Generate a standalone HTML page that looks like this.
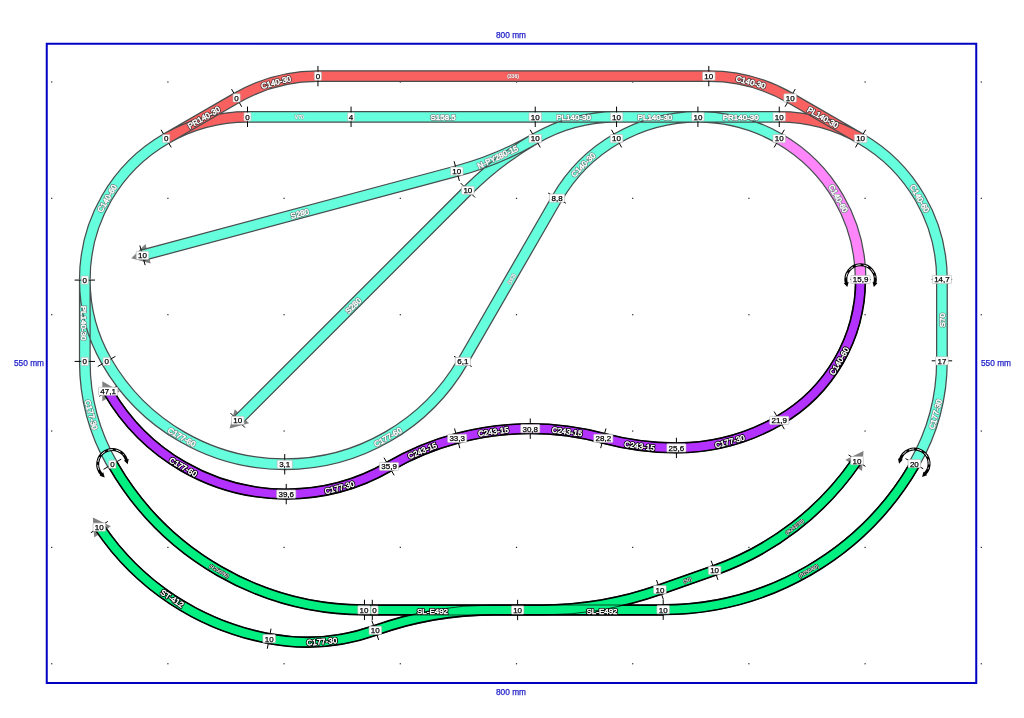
<!DOCTYPE html><html><head><meta charset="utf-8"><title>Track plan</title><style>html,body{margin:0;padding:0;background:#fff}svg{display:block;will-change:transform;opacity:0.999}text{font-family:"Liberation Sans",sans-serif}</style></head><body>
<svg width="1024" height="718" viewBox="0 0 1024 718">
<rect width="1024" height="718" fill="#fff"/>
<g fill="#222"><rect x="51.1" y="81.4" width="1.2" height="1.2"/><rect x="51.1" y="197.75" width="1.2" height="1.2"/><rect x="51.1" y="314.1" width="1.2" height="1.2"/><rect x="51.1" y="430.45" width="1.2" height="1.2"/><rect x="51.1" y="546.8" width="1.2" height="1.2"/><rect x="51.1" y="663.15" width="1.2" height="1.2"/><rect x="167.3" y="81.4" width="1.2" height="1.2"/><rect x="167.3" y="197.75" width="1.2" height="1.2"/><rect x="167.3" y="314.1" width="1.2" height="1.2"/><rect x="167.3" y="430.45" width="1.2" height="1.2"/><rect x="167.3" y="546.8" width="1.2" height="1.2"/><rect x="167.3" y="663.15" width="1.2" height="1.2"/><rect x="283.5" y="81.4" width="1.2" height="1.2"/><rect x="283.5" y="197.75" width="1.2" height="1.2"/><rect x="283.5" y="314.1" width="1.2" height="1.2"/><rect x="283.5" y="430.45" width="1.2" height="1.2"/><rect x="283.5" y="546.8" width="1.2" height="1.2"/><rect x="283.5" y="663.15" width="1.2" height="1.2"/><rect x="399.7" y="81.4" width="1.2" height="1.2"/><rect x="399.7" y="197.75" width="1.2" height="1.2"/><rect x="399.7" y="314.1" width="1.2" height="1.2"/><rect x="399.7" y="430.45" width="1.2" height="1.2"/><rect x="399.7" y="546.8" width="1.2" height="1.2"/><rect x="399.7" y="663.15" width="1.2" height="1.2"/><rect x="515.9" y="81.4" width="1.2" height="1.2"/><rect x="515.9" y="197.75" width="1.2" height="1.2"/><rect x="515.9" y="314.1" width="1.2" height="1.2"/><rect x="515.9" y="430.45" width="1.2" height="1.2"/><rect x="515.9" y="546.8" width="1.2" height="1.2"/><rect x="515.9" y="663.15" width="1.2" height="1.2"/><rect x="632.1" y="81.4" width="1.2" height="1.2"/><rect x="632.1" y="197.75" width="1.2" height="1.2"/><rect x="632.1" y="314.1" width="1.2" height="1.2"/><rect x="632.1" y="430.45" width="1.2" height="1.2"/><rect x="632.1" y="546.8" width="1.2" height="1.2"/><rect x="632.1" y="663.15" width="1.2" height="1.2"/><rect x="748.3" y="81.4" width="1.2" height="1.2"/><rect x="748.3" y="197.75" width="1.2" height="1.2"/><rect x="748.3" y="314.1" width="1.2" height="1.2"/><rect x="748.3" y="430.45" width="1.2" height="1.2"/><rect x="748.3" y="546.8" width="1.2" height="1.2"/><rect x="748.3" y="663.15" width="1.2" height="1.2"/><rect x="864.5" y="81.4" width="1.2" height="1.2"/><rect x="864.5" y="197.75" width="1.2" height="1.2"/><rect x="864.5" y="314.1" width="1.2" height="1.2"/><rect x="864.5" y="430.45" width="1.2" height="1.2"/><rect x="864.5" y="546.8" width="1.2" height="1.2"/><rect x="864.5" y="663.15" width="1.2" height="1.2"/><rect x="980.7" y="81.4" width="1.2" height="1.2"/><rect x="980.7" y="197.75" width="1.2" height="1.2"/><rect x="980.7" y="314.1" width="1.2" height="1.2"/><rect x="980.7" y="430.45" width="1.2" height="1.2"/><rect x="980.7" y="546.8" width="1.2" height="1.2"/><rect x="980.7" y="663.15" width="1.2" height="1.2"/></g>
<rect x="46.75" y="43.75" width="929.5" height="639.25" fill="none" stroke="#0000c4" stroke-width="2"/>
<g font-size="8.3" fill="#1c1cc8" text-anchor="middle" stroke="#1c1cc8" stroke-width="0.25">
<text x="511" y="38">800 mm</text><text x="511" y="694.6">800 mm</text><text x="29" y="366">550 mm</text><text x="996" y="366">550 mm</text></g>
<g fill="#808080"><polygon points="131.28,258.31 145.49,244.1 150.69,263.51"/><polygon points="229.58,428.57 234.78,409.16 248.99,423.37"/><polygon points="102.31,381.18 119.71,391.23 102.31,401.27"/><polygon points="92.84,517.48 110.89,526.32 94.21,537.53"/><polygon points="863.53,451.05 862.03,471.09 845.43,459.76"/></g>
<g fill="none" stroke-linecap="butt" stroke-linejoin="round">
<path d="M166.16 138.59 L236.6 97.92 M166.16 138.59 A162.68 162.68 0 0 1 247.5 116.8" stroke="#f96060" stroke-width="10.6"/><path d="M168.81 143.18 L239.25 102.51 M163.51 134.01 L233.95 93.34 M168.81 143.18 A157.38 157.38 0 0 1 247.5 122.1 M163.51 134.01 A167.98 167.98 0 0 1 247.5 111.5" stroke="#464e4e" stroke-width="1.25"/>
<path d="M236.6 97.92 A162.68 162.68 0 0 1 317.94 76.13" stroke="#f96060" stroke-width="10.6"/><path d="M239.25 102.51 A157.38 157.38 0 0 1 317.94 81.43 M233.95 93.34 A167.98 167.98 0 0 1 317.94 70.83" stroke="#464e4e" stroke-width="1.25"/>
<path d="M860.59 138.59 L790.15 97.92 M860.59 138.59 A162.68 162.68 0 0 0 779.25 116.8" stroke="#f96060" stroke-width="10.6"/><path d="M863.24 134.01 L792.8 93.34 M857.94 143.18 L787.5 102.51 M863.24 134.01 A167.98 167.98 0 0 0 779.25 111.5 M857.94 143.18 A157.38 157.38 0 0 0 779.25 122.1" stroke="#464e4e" stroke-width="1.25"/>
<path d="M790.15 97.92 A162.68 162.68 0 0 0 708.81 76.13" stroke="#f96060" stroke-width="10.6"/><path d="M792.8 93.34 A167.98 167.98 0 0 0 708.81 70.83 M787.5 102.51 A157.38 157.38 0 0 0 708.81 81.43" stroke="#464e4e" stroke-width="1.25"/>
<path d="M317.94 76.13 L708.81 76.13" stroke="#f96060" stroke-width="10.6"/><path d="M317.94 81.43 L708.81 81.43 M317.94 70.83 L708.81 70.83" stroke="#464e4e" stroke-width="1.25"/>
<path d="M247.5 116.8 L351.05 116.8" stroke="#66ffdd" stroke-width="10.6"/><path d="M247.5 122.1 L351.05 122.1 M247.5 111.5 L351.05 111.5" stroke="#464e4e" stroke-width="1.25"/>
<path d="M351.05 116.8 L535.23 116.8" stroke="#66ffdd" stroke-width="10.6"/><path d="M351.05 122.1 L535.23 122.1 M351.05 111.5 L535.23 111.5" stroke="#464e4e" stroke-width="1.25"/>
<path d="M616.57 116.8 L535.23 116.8 M616.57 116.8 A162.68 162.68 0 0 0 535.23 138.59" stroke="#66ffdd" stroke-width="10.6"/><path d="M616.57 111.5 L535.23 111.5 M616.57 122.1 L535.23 122.1 M616.57 111.5 A167.98 167.98 0 0 0 532.58 134.01 M616.57 122.1 A157.38 157.38 0 0 0 537.88 143.18" stroke="#464e4e" stroke-width="1.25"/>
<path d="M697.91 116.8 L616.57 116.8 M697.91 116.8 A162.68 162.68 0 0 0 616.57 138.59" stroke="#66ffdd" stroke-width="10.6"/><path d="M697.91 111.5 L616.57 111.5 M697.91 122.1 L616.57 122.1 M697.91 111.5 A167.98 167.98 0 0 0 613.92 134.01 M697.91 122.1 A157.38 157.38 0 0 0 619.22 143.18" stroke="#464e4e" stroke-width="1.25"/>
<path d="M697.91 116.8 L779.25 116.8 M697.91 116.8 A162.68 162.68 0 0 1 779.25 138.59" stroke="#66ffdd" stroke-width="10.6"/><path d="M697.91 122.1 L779.25 122.1 M697.91 111.5 L779.25 111.5 M697.91 122.1 A157.38 157.38 0 0 1 776.6 143.18 M697.91 111.5 A167.98 167.98 0 0 1 781.9 134.01" stroke="#464e4e" stroke-width="1.25"/>
<path d="M535.23 138.59 A325.36 325.36 0 0 1 456.76 171.1 M535.23 138.59 A325.36 325.36 0 0 0 467.85 190.3" stroke="#66ffdd" stroke-width="10.6"/><path d="M532.58 134.01 A320.06 320.06 0 0 1 455.39 165.98 M537.88 143.18 A330.66 330.66 0 0 1 458.13 176.22 M532.58 134.01 A330.66 330.66 0 0 0 464.1 186.55 M537.88 143.18 A320.06 320.06 0 0 0 471.59 194.05" stroke="#464e4e" stroke-width="1.25"/>
<path d="M456.76 171.1 L142.49 255.31" stroke="#66ffdd" stroke-width="10.6"/><path d="M455.39 165.98 L141.11 250.19 M458.13 176.22 L143.86 260.43" stroke="#464e4e" stroke-width="1.25"/>
<path d="M467.85 190.3 L237.78 420.37" stroke="#66ffdd" stroke-width="10.6"/><path d="M464.1 186.55 L234.03 416.62 M471.59 194.05 L241.53 424.11" stroke="#464e4e" stroke-width="1.25"/>
<path d="M616.57 138.59 A162.68 162.68 0 0 0 557.02 198.14" stroke="#66ffdd" stroke-width="10.6"/><path d="M613.92 134.01 A167.98 167.98 0 0 0 552.44 195.49 M619.22 143.18 A157.38 157.38 0 0 0 561.61 200.79" stroke="#464e4e" stroke-width="1.25"/>
<path d="M166.16 138.59 A162.68 162.68 0 0 0 84.82 279.48" stroke="#66ffdd" stroke-width="10.6"/><path d="M163.51 134.01 A167.98 167.98 0 0 0 79.52 279.48 M168.81 143.18 A157.38 157.38 0 0 0 90.12 279.48" stroke="#464e4e" stroke-width="1.25"/>
<path d="M84.82 280.08 L84.82 361.42 M84.82 280.08 A162.68 162.68 0 0 0 106.61 361.42" stroke="#66ffdd" stroke-width="10.6"/><path d="M79.52 280.08 L79.52 361.42 M90.12 280.08 L90.12 361.42 M79.52 280.08 A167.98 167.98 0 0 0 102.03 364.07 M90.12 280.08 A157.38 157.38 0 0 0 111.2 358.77" stroke="#464e4e" stroke-width="1.25"/>
<path d="M106.61 361.42 A205.67 205.67 0 0 0 284.73 464.26" stroke="#66ffdd" stroke-width="10.6"/><path d="M102.03 364.07 A210.97 210.97 0 0 0 284.73 469.56 M111.2 358.77 A200.37 200.37 0 0 0 284.73 458.96" stroke="#464e4e" stroke-width="1.25"/>
<path d="M284.73 464.26 A205.67 205.67 0 0 0 462.85 361.42" stroke="#66ffdd" stroke-width="10.6"/><path d="M284.73 469.56 A210.97 210.97 0 0 0 467.44 364.07 M284.73 458.96 A200.37 200.37 0 0 0 458.26 358.77" stroke="#464e4e" stroke-width="1.25"/>
<path d="M462.85 361.42 L557.02 198.14" stroke="#66ffdd" stroke-width="10.6"/><path d="M467.44 364.07 L561.62 200.79 M458.26 358.77 L552.43 195.49" stroke="#464e4e" stroke-width="1.25"/>
<path d="M84.82 361.42 A205.67 205.67 0 0 0 112.38 464.26" stroke="#66ffdd" stroke-width="10.6"/><path d="M79.52 361.42 A210.97 210.97 0 0 0 107.79 466.91 M90.12 361.42 A200.37 200.37 0 0 0 116.97 461.61" stroke="#464e4e" stroke-width="1.25"/>
<path d="M860.59 138.59 A162.68 162.68 0 0 1 941.93 279.48" stroke="#66ffdd" stroke-width="10.6"/><path d="M857.94 143.18 A157.38 157.38 0 0 1 936.63 279.48 M863.24 134.01 A167.98 167.98 0 0 1 947.23 279.48" stroke="#464e4e" stroke-width="1.25"/>
<path d="M941.93 279.48 L941.93 360.82" stroke="#66ffdd" stroke-width="10.6"/><path d="M936.63 279.48 L936.63 360.82 M947.23 279.48 L947.23 360.82" stroke="#464e4e" stroke-width="1.25"/>
<path d="M941.93 360.82 A205.67 205.67 0 0 1 914.37 463.66" stroke="#66ffdd" stroke-width="10.6"/><path d="M936.63 360.82 A200.37 200.37 0 0 1 909.78 461.01 M947.23 360.82 A210.97 210.97 0 0 1 918.96 466.31" stroke="#464e4e" stroke-width="1.25"/>
<path d="M779.25 138.59 A162.68 162.68 0 0 1 860.59 279.48" stroke="#ff85fb" stroke-width="10.6"/><path d="M776.6 143.18 A157.38 157.38 0 0 1 855.29 279.48 M781.9 134.01 A167.98 167.98 0 0 1 865.89 279.48" stroke="#464e4e" stroke-width="1.25"/>
<path d="M860.59 279.48 A162.68 162.68 0 0 1 779.25 420.37" stroke="#000" stroke-width="11.3"/><path d="M860.59 279.48 A162.68 162.68 0 0 1 779.25 420.37" stroke="#b432ff" stroke-width="8.15"/><path d="M855.59 279.48 A157.68 157.68 0 0 1 776.75 416.03 M865.59 279.48 A167.68 167.68 0 0 1 781.75 424.7" stroke="#000" stroke-width="0.7"/>
<path d="M779.25 420.37 A205.67 205.67 0 0 1 676.41 447.92" stroke="#000" stroke-width="11.3"/><path d="M779.25 420.37 A205.67 205.67 0 0 1 676.41 447.92" stroke="#b432ff" stroke-width="8.15"/><path d="M776.75 416.03 A200.67 200.67 0 0 1 676.41 442.92 M781.75 424.7 A210.67 210.67 0 0 1 676.41 452.92" stroke="#000" stroke-width="0.7"/>
<path d="M676.41 447.92 A282.37 282.37 0 0 1 603.33 438.3" stroke="#000" stroke-width="11.3"/><path d="M676.41 447.92 A282.37 282.37 0 0 1 603.33 438.3" stroke="#b432ff" stroke-width="8.15"/><path d="M676.41 442.92 A277.37 277.37 0 0 1 604.63 433.47 M676.41 452.92 A287.37 287.37 0 0 1 602.04 443.13" stroke="#000" stroke-width="0.7"/>
<path d="M603.33 438.3 A282.37 282.37 0 0 0 530.25 428.68" stroke="#000" stroke-width="11.3"/><path d="M603.33 438.3 A282.37 282.37 0 0 0 530.25 428.68" stroke="#b432ff" stroke-width="8.15"/><path d="M604.63 433.47 A287.37 287.37 0 0 0 530.25 423.68 M602.04 443.13 A277.37 277.37 0 0 0 530.25 433.68" stroke="#000" stroke-width="0.7"/>
<path d="M530.25 428.68 A282.37 282.37 0 0 0 457.17 438.3" stroke="#000" stroke-width="11.3"/><path d="M530.25 428.68 A282.37 282.37 0 0 0 457.17 438.3" stroke="#b432ff" stroke-width="8.15"/><path d="M530.25 423.68 A287.37 287.37 0 0 0 455.87 433.47 M530.25 433.68 A277.37 277.37 0 0 0 458.46 443.13" stroke="#000" stroke-width="0.7"/>
<path d="M457.17 438.3 A282.37 282.37 0 0 0 389.07 466.51" stroke="#000" stroke-width="11.3"/><path d="M457.17 438.3 A282.37 282.37 0 0 0 389.07 466.51" stroke="#b432ff" stroke-width="8.15"/><path d="M455.87 433.47 A287.37 287.37 0 0 0 386.57 462.18 M458.46 443.13 A277.37 277.37 0 0 0 391.57 470.84" stroke="#000" stroke-width="0.7"/>
<path d="M389.07 466.51 A205.67 205.67 0 0 1 286.23 494.06" stroke="#000" stroke-width="11.3"/><path d="M389.07 466.51 A205.67 205.67 0 0 1 286.23 494.06" stroke="#b432ff" stroke-width="8.15"/><path d="M386.57 462.18 A200.67 200.67 0 0 1 286.23 489.06 M391.57 470.84 A210.67 210.67 0 0 1 286.23 499.06" stroke="#000" stroke-width="0.7"/>
<path d="M286.23 494.06 A205.67 205.67 0 0 1 108.11 391.23" stroke="#000" stroke-width="11.3"/><path d="M286.23 494.06 A205.67 205.67 0 0 1 108.11 391.23" stroke="#b432ff" stroke-width="8.15"/><path d="M286.23 489.06 A200.67 200.67 0 0 1 112.44 388.73 M286.23 499.06 A210.67 210.67 0 0 1 103.78 393.73" stroke="#000" stroke-width="0.7"/>
<path d="M112.88 464.66 A290.5 290.5 0 0 0 364.46 609.91" stroke="#000" stroke-width="11.3"/><path d="M112.88 464.66 A290.5 290.5 0 0 0 364.46 609.91" stroke="#00ee80" stroke-width="8.15"/><path d="M108.54 467.16 A295.5 295.5 0 0 0 364.46 614.91 M117.21 462.16 A285.5 285.5 0 0 0 364.46 604.91" stroke="#000" stroke-width="0.7"/>
<path d="M914.77 464.46 A290.5 290.5 0 0 1 663.19 609.71" stroke="#000" stroke-width="11.3"/><path d="M914.77 464.46 A290.5 290.5 0 0 1 663.19 609.71" stroke="#00ee80" stroke-width="8.15"/><path d="M910.44 461.96 A285.5 285.5 0 0 1 663.19 604.71 M919.11 466.96 A295.5 295.5 0 0 1 663.19 614.71" stroke="#000" stroke-width="0.7"/>
<path d="M364.46 610 L372.3 610" stroke="#000" stroke-width="11.3"/><path d="M364.46 610 L372.3 610" stroke="#00ee80" stroke-width="8.15"/><path d="M364.46 615 L372.3 615 M364.46 605 L372.3 605" stroke="#000" stroke-width="0.7"/>
<path d="M517.6 610 L372.3 610 M517.6 610 L493.6 610 A354.41 354.41 0 0 0 375.3 630.33" stroke="#000" stroke-width="11.3"/><path d="M517.6 610 L372.3 610 M517.6 610 L493.6 610 A354.41 354.41 0 0 0 375.3 630.33" stroke="#00ee80" stroke-width="8.15"/><path d="M517.6 605 L372.3 605 M517.6 615 L372.3 615 M517.6 605 L493.6 605 A359.41 359.41 0 0 0 373.63 625.62 M517.6 615 L493.6 615 A349.41 349.41 0 0 0 376.96 635.04" stroke="#000" stroke-width="0.7"/>
<path d="M517.6 610 L663.19 610 M517.6 610 L541.6 610 A354.41 354.41 0 0 0 659.9 589.67" stroke="#000" stroke-width="11.3"/><path d="M517.6 610 L663.19 610 M517.6 610 L541.6 610 A354.41 354.41 0 0 0 659.9 589.67" stroke="#00ee80" stroke-width="8.15"/><path d="M517.6 615 L663.19 615 M517.6 605 L663.19 605 M517.6 615 L541.6 615 A359.41 359.41 0 0 0 661.57 594.38 M517.6 605 L541.6 605 A349.41 349.41 0 0 0 658.24 584.96" stroke="#000" stroke-width="0.7"/>
<path d="M375.3 630.33 A205.67 205.67 0 0 1 269.16 638.68" stroke="#000" stroke-width="11.3"/><path d="M375.3 630.33 A205.67 205.67 0 0 1 269.16 638.68" stroke="#00ee80" stroke-width="8.15"/><path d="M373.63 625.62 A200.67 200.67 0 0 1 270.07 633.77 M376.96 635.04 A210.67 210.67 0 0 1 268.25 643.6" stroke="#000" stroke-width="0.7"/>
<path d="M269.16 638.68 A262.2 262.2 0 0 1 99.31 527.11" stroke="#000" stroke-width="11.3"/><path d="M269.16 638.68 A262.2 262.2 0 0 1 99.31 527.11" stroke="#00ee80" stroke-width="8.15"/><path d="M270.07 633.77 A257.2 257.2 0 0 1 103.46 524.32 M268.25 643.6 A267.2 267.2 0 0 1 95.16 529.9" stroke="#000" stroke-width="0.7"/>
<path d="M659.9 589.67 L714.58 570.31" stroke="#000" stroke-width="11.3"/><path d="M659.9 589.67 L714.58 570.31" stroke="#00ee80" stroke-width="8.15"/><path d="M661.57 594.38 L716.25 575.02 M658.24 584.96 L712.91 565.6" stroke="#000" stroke-width="0.7"/>
<path d="M714.58 570.31 A289.3 289.3 0 0 0 857 460.63" stroke="#000" stroke-width="11.3"/><path d="M714.58 570.31 A289.3 289.3 0 0 0 857 460.63" stroke="#00ee80" stroke-width="8.15"/><path d="M716.25 575.02 A294.3 294.3 0 0 0 861.13 463.45 M712.91 565.6 A284.3 284.3 0 0 0 852.87 457.82" stroke="#000" stroke-width="0.7"/>
</g>
<path d="M161.06 129.76 L171.26 147.43 M231.5 89.09 L241.7 106.76 M247.5 106.6 L247.5 127 M317.94 65.93 L317.94 86.33 M855.49 147.43 L865.69 129.76 M785.05 106.76 L795.25 89.09 M779.25 127 L779.25 106.6 M708.81 86.33 L708.81 65.93 M351.05 106.6 L351.05 127 M535.23 106.6 L535.23 127 M616.57 106.6 L616.57 127 M697.91 106.6 L697.91 127 M540.33 147.43 L530.13 129.76 M621.67 147.43 L611.47 129.76 M784.35 129.76 L774.15 147.43 M459.4 180.95 L454.12 161.25 M475.06 197.51 L460.63 183.09 M145.13 265.16 L139.85 245.46 M244.99 427.58 L230.57 413.15 M565.86 203.24 L548.19 193.04 M95.02 280.08 L74.62 280.08 M95.02 361.42 L74.62 361.42 M115.45 356.32 L97.78 366.52 M284.73 454.06 L284.73 474.46 M454.02 356.32 L471.69 366.52 M121.21 459.16 L103.54 469.36 M952.13 279.48 L931.73 279.48 M952.13 360.82 L931.73 360.82 M923.21 468.76 L905.54 458.56 M870.79 279.48 L850.39 279.48 M784.35 429.2 L774.15 411.53 M676.41 458.12 L676.41 437.72 M600.69 448.15 L605.97 428.45 M530.25 438.88 L530.25 418.48 M459.81 448.15 L454.53 428.45 M394.17 475.34 L383.97 457.67 M286.23 504.26 L286.23 483.86 M99.28 396.33 L116.94 386.13 M364.46 599.71 L364.46 620.11 M663.19 619.91 L663.19 599.51 M372.3 620.2 L372.3 599.8 M517.6 599.8 L517.6 620.2 M378.7 639.94 L371.89 620.71 M656.5 580.06 L663.31 599.29 M267.3 648.71 L271.02 628.65 M90.85 532.8 L107.78 521.42 M711.17 560.7 L717.98 579.93 M848.57 454.88 L865.42 466.38" stroke="#000" stroke-width="1" fill="none"/>
<path d="M101.8 474.47 A14.7 14.7 0 1 1 126.51 460.21" stroke="#000" stroke-width="3" fill="none"/><path d="M98.75 469.76 A14.7 14.7 0 0 1 123.96 455.21" stroke="#fff" stroke-width="0.9" stroke-dasharray="5 3" fill="none"/><polygon points="104.72,477.49 99.66,475.85 103.25,472.37" fill="#000"/><polygon points="127.66,464.24 128.77,459.04 123.96,460.41" fill="#000"/>
<path d="M846.33 283.04 A14.7 14.7 0 1 1 874.85 283.04" stroke="#000" stroke-width="3" fill="none"/><path d="M846.03 277.43 A14.7 14.7 0 0 1 875.15 277.43" stroke="#fff" stroke-width="0.9" stroke-dasharray="5 3" fill="none"/><polygon points="847.34,287.11 843.78,283.16 848.63,281.95" fill="#000"/><polygon points="873.84,287.11 877.4,283.16 872.55,281.95" fill="#000"/>
<path d="M900.24 459.61 A14.7 14.7 0 1 1 924.95 473.87" stroke="#000" stroke-width="3" fill="none"/><path d="M902.79 454.61 A14.7 14.7 0 0 1 928 469.16" stroke="#fff" stroke-width="0.9" stroke-dasharray="5 3" fill="none"/><polygon points="899.09,463.64 897.98,458.44 902.79,459.81" fill="#000"/><polygon points="922.03,476.89 927.09,475.25 923.5,471.77" fill="#000"/>
<g text-anchor="middle" stroke-linejoin="round">
<g transform="translate(275.84 81.67) rotate(-15)" font-size="8"><text y="3.38" fill="#4a3a3a" stroke="#4a3a3a" stroke-width="2.1">C140-30</text><text y="3.38" fill="#fff" stroke="#fff" stroke-width="0.45">C140-30</text></g>
<g transform="translate(203.63 116.96) rotate(-30)" font-size="8"><text y="3.38" fill="#4a3a3a" stroke="#4a3a3a" stroke-width="2.1">PR140-30</text><text y="3.38" fill="#fff" stroke="#fff" stroke-width="0.45">PR140-30</text></g>
<g transform="translate(513 76.5) rotate(0)" font-size="5.0"><text y="1.8" fill="#b06060" stroke="#b06060" stroke-width="1.0">(336)</text><text y="1.8" fill="#fff" stroke="#fff" stroke-width="0.15">(336)</text></g>
<g transform="translate(750.91 81.67) rotate(15)" font-size="8"><text y="3.38" fill="#4a3a3a" stroke="#4a3a3a" stroke-width="2.1">C140-30</text><text y="3.38" fill="#fff" stroke="#fff" stroke-width="0.45">C140-30</text></g>
<g transform="translate(823.12 116.96) rotate(30)" font-size="8"><text y="3.38" fill="#4a3a3a" stroke="#4a3a3a" stroke-width="2.1">PL140-30</text><text y="3.38" fill="#fff" stroke="#fff" stroke-width="0.45">PL140-30</text></g>
<g transform="translate(299.28 116.8) rotate(0)" font-size="5.0"><text y="1.8" fill="#7aa39c" stroke="#7aa39c" stroke-width="1.0">V70</text><text y="1.8" fill="#fff" stroke="#fff" stroke-width="0.15">V70</text></g>
<g transform="translate(443.14 116.8) rotate(0)" font-size="8"><text y="3.38" fill="#67817c" stroke="#67817c" stroke-width="1.75">S158.5</text><text y="3.38" fill="#fff" stroke="#fff" stroke-width="0.45">S158.5</text></g>
<g transform="translate(573.6 116.8) rotate(0)" font-size="8"><text y="3.38" fill="#67817c" stroke="#67817c" stroke-width="1.75">PL140-30</text><text y="3.38" fill="#fff" stroke="#fff" stroke-width="0.45">PL140-30</text></g>
<g transform="translate(654.94 116.8) rotate(0)" font-size="8"><text y="3.38" fill="#67817c" stroke="#67817c" stroke-width="1.75">PL140-30</text><text y="3.38" fill="#fff" stroke="#fff" stroke-width="0.45">PL140-30</text></g>
<g transform="translate(740.68 116.8) rotate(0)" font-size="8"><text y="3.38" fill="#67817c" stroke="#67817c" stroke-width="1.75">PR140-30</text><text y="3.38" fill="#fff" stroke="#fff" stroke-width="0.45">PR140-30</text></g>
<g transform="translate(497.5 156.5) rotate(-25)" font-size="8"><text y="3.38" fill="#67817c" stroke="#67817c" stroke-width="1.75">N-PY280-15</text><text y="3.38" fill="#fff" stroke="#fff" stroke-width="0.45">N-PY280-15</text></g>
<g transform="translate(582.88 164.45) rotate(-45)" font-size="8"><text y="3.38" fill="#67817c" stroke="#67817c" stroke-width="1.75">C140-30</text><text y="3.38" fill="#fff" stroke="#fff" stroke-width="0.45">C140-30</text></g>
<g transform="translate(299.62 213.2) rotate(-15)" font-size="8"><text y="3.38" fill="#67817c" stroke="#67817c" stroke-width="1.75">S280</text><text y="3.38" fill="#fff" stroke="#fff" stroke-width="0.45">S280</text></g>
<g transform="translate(352.81 305.33) rotate(-45)" font-size="8"><text y="3.38" fill="#67817c" stroke="#67817c" stroke-width="1.75">S280</text><text y="3.38" fill="#fff" stroke="#fff" stroke-width="0.45">S280</text></g>
<g transform="translate(511.44 278.88) rotate(-60)" font-size="5.0"><text y="1.8" fill="#7aa39c" stroke="#7aa39c" stroke-width="1.0">(162)</text><text y="1.8" fill="#fff" stroke="#fff" stroke-width="0.15">(162)</text></g>
<g transform="translate(106.61 198.14) rotate(-60)" font-size="8"><text y="3.38" fill="#67817c" stroke="#67817c" stroke-width="1.75">C140-60</text><text y="3.38" fill="#fff" stroke="#fff" stroke-width="0.45">C140-60</text></g>
<g transform="translate(84.82 323.05) rotate(90)" font-size="8"><text y="3.38" fill="#67817c" stroke="#67817c" stroke-width="1.75">PL140-30</text><text y="3.38" fill="#fff" stroke="#fff" stroke-width="0.45">PL140-30</text></g>
<g transform="translate(91.83 414.65) rotate(75)" font-size="8"><text y="3.38" fill="#67817c" stroke="#67817c" stroke-width="1.75">C177-30</text><text y="3.38" fill="#fff" stroke="#fff" stroke-width="0.45">C177-30</text></g>
<g transform="translate(181.9 436.7) rotate(30)" font-size="8"><text y="3.38" fill="#67817c" stroke="#67817c" stroke-width="1.75">C177-60</text><text y="3.38" fill="#fff" stroke="#fff" stroke-width="0.45">C177-60</text></g>
<g transform="translate(387.57 436.7) rotate(-30)" font-size="8"><text y="3.38" fill="#67817c" stroke="#67817c" stroke-width="1.75">C177-60</text><text y="3.38" fill="#fff" stroke="#fff" stroke-width="0.45">C177-60</text></g>
<g transform="translate(838.8 198.14) rotate(60)" font-size="8"><text y="3.38" fill="#67817c" stroke="#67817c" stroke-width="1.75">C140-60</text><text y="3.38" fill="#fff" stroke="#fff" stroke-width="0.45">C140-60</text></g>
<g transform="translate(920.14 198.14) rotate(60)" font-size="8"><text y="3.38" fill="#67817c" stroke="#67817c" stroke-width="1.75">C140-60</text><text y="3.38" fill="#fff" stroke="#fff" stroke-width="0.45">C140-60</text></g>
<g transform="translate(941.93 320.15) rotate(-90)" font-size="8"><text y="3.38" fill="#67817c" stroke="#67817c" stroke-width="1.75">S70</text><text y="3.38" fill="#fff" stroke="#fff" stroke-width="0.45">S70</text></g>
<g transform="translate(934.92 414.05) rotate(-75)" font-size="8"><text y="3.38" fill="#67817c" stroke="#67817c" stroke-width="1.75">C177-30</text><text y="3.38" fill="#fff" stroke="#fff" stroke-width="0.45">C177-30</text></g>
<g transform="translate(838.8 360.82) rotate(-60)" font-size="8"><text y="3.38" fill="#000" stroke="#000" stroke-width="2.2">C140-60</text><text y="3.38" fill="#fff" stroke="#fff" stroke-width="0.45">C140-60</text></g>
<g transform="translate(729.65 440.91) rotate(-15)" font-size="8"><text y="3.38" fill="#000" stroke="#000" stroke-width="2.2">C177-30</text><text y="3.38" fill="#fff" stroke="#fff" stroke-width="0.45">C177-30</text></g>
<g transform="translate(639.56 445.5) rotate(7.5)" font-size="8"><text y="3.38" fill="#000" stroke="#000" stroke-width="2.2">C243-15</text><text y="3.38" fill="#fff" stroke="#fff" stroke-width="0.45">C243-15</text></g>
<g transform="translate(567.11 431.09) rotate(7.5)" font-size="8"><text y="3.38" fill="#000" stroke="#000" stroke-width="2.2">C243-15</text><text y="3.38" fill="#fff" stroke="#fff" stroke-width="0.45">C243-15</text></g>
<g transform="translate(493.39 431.09) rotate(-7.5)" font-size="8"><text y="3.38" fill="#000" stroke="#000" stroke-width="2.2">C243-15</text><text y="3.38" fill="#fff" stroke="#fff" stroke-width="0.45">C243-15</text></g>
<g transform="translate(422.19 450.17) rotate(-22.5)" font-size="8"><text y="3.38" fill="#000" stroke="#000" stroke-width="2.2">C243-15</text><text y="3.38" fill="#fff" stroke="#fff" stroke-width="0.45">C243-15</text></g>
<g transform="translate(339.46 487.05) rotate(-15)" font-size="8"><text y="3.38" fill="#000" stroke="#000" stroke-width="2.2">C177-30</text><text y="3.38" fill="#fff" stroke="#fff" stroke-width="0.45">C177-30</text></g>
<g transform="translate(183.39 466.51) rotate(30)" font-size="8"><text y="3.38" fill="#000" stroke="#000" stroke-width="2.2">C177-60</text><text y="3.38" fill="#fff" stroke="#fff" stroke-width="0.45">C177-60</text></g>
<g transform="translate(219.21 570.99) rotate(30)" font-size="5.0"><text y="1.8" fill="#000" stroke="#000" stroke-width="1.0">(R250/60)</text><text y="1.8" fill="#fff" stroke="#fff" stroke-width="0.15">(R250/60)</text></g>
<g transform="translate(808.44 570.79) rotate(-30)" font-size="5.0"><text y="1.8" fill="#000" stroke="#000" stroke-width="1.0">(R250/60)</text><text y="1.8" fill="#fff" stroke="#fff" stroke-width="0.15">(R250/60)</text></g>
<g transform="translate(172.5 598) rotate(33)" font-size="8"><text y="3.38" fill="#000" stroke="#000" stroke-width="2.2">ST-412</text><text y="3.38" fill="#fff" stroke="#fff" stroke-width="0.45">ST-412</text></g>
<g transform="translate(321.75 641) rotate(-4.5)" font-size="8"><text y="3.38" fill="#000" stroke="#000" stroke-width="2.2">C177-30</text><text y="3.38" fill="#fff" stroke="#fff" stroke-width="0.45">C177-30</text></g>
<g transform="translate(432.5 610.6) rotate(0)" font-size="8"><text y="3.38" fill="#000" stroke="#000" stroke-width="2.2">SL-E492</text><text y="3.38" fill="#fff" stroke="#fff" stroke-width="0.45">SL-E492</text></g>
<g transform="translate(602 610.6) rotate(0)" font-size="8"><text y="3.38" fill="#000" stroke="#000" stroke-width="2.2">SL-E492</text><text y="3.38" fill="#fff" stroke="#fff" stroke-width="0.45">SL-E492</text></g>
<g transform="translate(687.24 579.99) rotate(-19.5)" font-size="5.0"><text y="1.8" fill="#000" stroke="#000" stroke-width="1.0">(50)</text><text y="1.8" fill="#fff" stroke="#fff" stroke-width="0.15">(50)</text></g>
<g transform="translate(794.52 526.81) rotate(-38)" font-size="5.0"><text y="1.8" fill="#000" stroke="#000" stroke-width="1.0">(R243/38)</text><text y="1.8" fill="#fff" stroke="#fff" stroke-width="0.15">(R243/38)</text></g>
</g>
<g fill="#fff" stroke="#b0b0b0" stroke-width="0.6"><rect x="162.56" y="134.49" width="7.2" height="8.2" rx="0.8"/><rect x="233" y="93.82" width="7.2" height="8.2" rx="0.8"/><rect x="243.9" y="112.7" width="7.2" height="8.2" rx="0.8"/><rect x="314.34" y="72.03" width="7.2" height="8.2" rx="0.8"/><rect x="854.29" y="134.49" width="12.6" height="8.2" rx="0.8"/><rect x="783.85" y="93.82" width="12.6" height="8.2" rx="0.8"/><rect x="772.95" y="112.7" width="12.6" height="8.2" rx="0.8"/><rect x="702.51" y="72.03" width="12.6" height="8.2" rx="0.8"/><rect x="347.45" y="112.7" width="7.2" height="8.2" rx="0.8"/><rect x="528.93" y="112.7" width="12.6" height="8.2" rx="0.8"/><rect x="610.27" y="112.7" width="12.6" height="8.2" rx="0.8"/><rect x="691.61" y="112.7" width="12.6" height="8.2" rx="0.8"/><rect x="528.93" y="134.49" width="12.6" height="8.2" rx="0.8"/><rect x="610.27" y="134.49" width="12.6" height="8.2" rx="0.8"/><rect x="772.95" y="134.49" width="12.6" height="8.2" rx="0.8"/><rect x="450.46" y="167" width="12.6" height="8.2" rx="0.8"/><rect x="461.55" y="186.2" width="12.6" height="8.2" rx="0.8"/><rect x="136.19" y="251.21" width="12.6" height="8.2" rx="0.8"/><rect x="231.48" y="416.27" width="12.6" height="8.2" rx="0.8"/><rect x="549.42" y="194.04" width="15.2" height="8.2" rx="0.8"/><rect x="81.22" y="275.98" width="7.2" height="8.2" rx="0.8"/><rect x="81.22" y="357.32" width="7.2" height="8.2" rx="0.8"/><rect x="103.01" y="357.32" width="7.2" height="8.2" rx="0.8"/><rect x="277.13" y="460.16" width="15.2" height="8.2" rx="0.8"/><rect x="455.25" y="357.32" width="15.2" height="8.2" rx="0.8"/><rect x="108.78" y="460.16" width="7.2" height="8.2" rx="0.8"/><rect x="932.33" y="275.38" width="19.2" height="8.2" rx="0.8"/><rect x="935.63" y="356.72" width="12.6" height="8.2" rx="0.8"/><rect x="908.07" y="459.56" width="12.6" height="8.2" rx="0.8"/><rect x="850.99" y="275.38" width="19.2" height="8.2" rx="0.8"/><rect x="769.65" y="416.27" width="19.2" height="8.2" rx="0.8"/><rect x="666.81" y="443.82" width="19.2" height="8.2" rx="0.8"/><rect x="593.73" y="434.2" width="19.2" height="8.2" rx="0.8"/><rect x="520.65" y="424.58" width="19.2" height="8.2" rx="0.8"/><rect x="447.57" y="434.2" width="19.2" height="8.2" rx="0.8"/><rect x="379.47" y="462.41" width="19.2" height="8.2" rx="0.8"/><rect x="276.63" y="489.96" width="19.2" height="8.2" rx="0.8"/><rect x="98.51" y="387.13" width="19.2" height="8.2" rx="0.8"/><rect x="357.76" y="605.81" width="12.6" height="8.2" rx="0.8"/><rect x="656.89" y="605.61" width="12.6" height="8.2" rx="0.8"/><rect x="371" y="605.9" width="7.2" height="8.2" rx="0.8"/><rect x="511.3" y="605.9" width="12.6" height="8.2" rx="0.8"/><rect x="369" y="626.23" width="12.6" height="8.2" rx="0.8"/><rect x="653.6" y="585.57" width="12.6" height="8.2" rx="0.8"/><rect x="262.86" y="634.58" width="12.6" height="8.2" rx="0.8"/><rect x="93.01" y="523.01" width="12.6" height="8.2" rx="0.8"/><rect x="708.28" y="566.21" width="12.6" height="8.2" rx="0.8"/><rect x="850.7" y="456.53" width="12.6" height="8.2" rx="0.8"/></g>
<g font-size="8" text-anchor="middle" fill="#000" stroke="#000" stroke-width="0.25"><text x="166.16" y="141.49">0</text><text x="236.6" y="100.82">0</text><text x="247.5" y="119.7">0</text><text x="317.94" y="79.03">0</text><text x="860.59" y="141.49">10</text><text x="790.15" y="100.82">10</text><text x="779.25" y="119.7">10</text><text x="708.81" y="79.03">10</text><text x="351.05" y="119.7">4</text><text x="535.23" y="119.7">10</text><text x="616.57" y="119.7">10</text><text x="697.91" y="119.7">10</text><text x="535.23" y="141.49">10</text><text x="616.57" y="141.49">10</text><text x="779.25" y="141.49">10</text><text x="456.76" y="174">10</text><text x="467.85" y="193.2">10</text><text x="142.49" y="258.21">10</text><text x="237.78" y="423.27">10</text><text x="557.02" y="201.04">8,8</text><text x="84.82" y="282.98">0</text><text x="84.82" y="364.32">0</text><text x="106.61" y="364.32">0</text><text x="284.73" y="467.16">3,1</text><text x="462.85" y="364.32">6,1</text><text x="112.38" y="467.16">0</text><text x="941.93" y="282.38">14,7</text><text x="941.93" y="363.72">17</text><text x="914.37" y="466.56">20</text><text x="860.59" y="282.38">15,9</text><text x="779.25" y="423.27">21,9</text><text x="676.41" y="450.82">25,6</text><text x="603.33" y="441.2">28,2</text><text x="530.25" y="431.58">30,8</text><text x="457.17" y="441.2">33,3</text><text x="389.07" y="469.41">35,9</text><text x="286.23" y="496.96">39,6</text><text x="108.11" y="394.13">47,1</text><text x="364.06" y="612.81">10</text><text x="663.19" y="612.61">10</text><text x="374.6" y="612.9">0</text><text x="517.6" y="612.9">10</text><text x="375.3" y="633.23">10</text><text x="659.9" y="592.57">10</text><text x="269.16" y="641.58">10</text><text x="99.31" y="530.01">10</text><text x="714.58" y="573.21">10</text><text x="857" y="463.53">10</text></g>
</svg></body></html>
